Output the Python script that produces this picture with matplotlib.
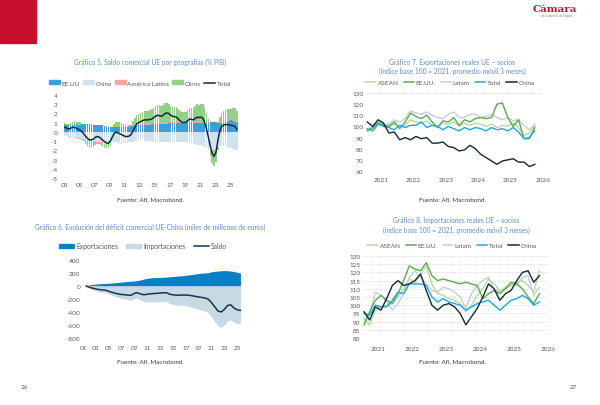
import matplotlib
matplotlib.use('Agg')
import matplotlib.pyplot as plt
import numpy as np
from matplotlib.lines import Line2D
from matplotlib.patches import Patch, Rectangle

plt.rcParams['font.family'] = ['Lato', 'DejaVu Sans']
plt.rcParams['axes.unicode_minus'] = False

# ---------------- data ----------------
# Gráfico 5: quarterly 2003Q1..2025Q4, % GDP
quarters5 = np.arange(2003, 2026, 0.25) + 0.125
eeuu5 = [0.80, 0.80, 0.78, 0.78, 0.80, 0.82, 0.82, 0.80, 0.80, 0.82, 0.84, 0.84,
         0.85, 0.84, 0.82, 0.80, 0.78, 0.76, 0.74, 0.72, 0.70, 0.66, 0.60, 0.55,
         0.50, 0.48, 0.48, 0.50, 0.52, 0.54, 0.55, 0.56, 0.58, 0.58, 0.58, 0.60,
         0.64, 0.68, 0.70, 0.72, 0.72, 0.74, 0.75, 0.76, 0.78, 0.80, 0.82, 0.84,
         0.86, 0.88, 0.88, 0.88, 0.88, 0.90, 0.90, 0.92, 0.92, 0.94, 0.95, 0.96,
         0.96, 0.98, 1.00, 1.00, 1.02, 1.04, 1.05, 1.05, 1.00, 0.95, 0.95, 0.98,
         1.00, 1.00, 0.98, 0.98, 1.00, 1.02, 1.05, 1.05, 1.02, 1.00, 0.98, 0.98,
         1.00, 1.05, 1.10, 1.15, 1.25, 1.20, 1.05, 0.95]
china5 = [-0.40, -0.42, -0.45, -0.48, -0.50, -0.55, -0.60, -0.65, -0.70, -0.75, -0.80, -0.85,
          -0.88, -0.92, -0.95, -0.98, -1.00, -1.05, -1.10, -1.12, -1.15, -1.18, -1.20, -1.20,
          -1.10, -1.05, -1.05, -1.10, -1.20, -1.25, -1.28, -1.25, -1.22, -1.18, -1.15, -1.10,
          -1.05, -1.00, -0.98, -0.95, -0.92, -0.92, -0.95, -0.98, -1.00, -1.02, -1.05, -1.08,
          -1.10, -1.12, -1.12, -1.12, -1.10, -1.08, -1.06, -1.05, -1.05, -1.05, -1.05, -1.05,
          -1.05, -1.08, -1.10, -1.12, -1.12, -1.15, -1.18, -1.20, -1.25, -1.35, -1.40, -1.40,
          -1.45, -1.55, -1.65, -1.80, -1.95, -2.05, -2.05, -2.00, -1.85, -1.65, -1.55, -1.50,
          -1.55, -1.60, -1.65, -1.70, -1.80, -1.90, -1.95, -1.95]
latam5 = [-0.05, -0.05, -0.06, -0.08, -0.08, -0.10, -0.10, -0.12, -0.12, -0.14, -0.15, -0.15,
          -0.15, -0.16, -0.16, -0.15, -0.15, -0.14, -0.14, -0.13, -0.12, -0.12, -0.10, -0.08,
          -0.05, -0.03, -0.02, 0.00, 0.02, 0.03, 0.04, 0.05, 0.06, 0.07, 0.08, 0.08,
          0.08, 0.09, 0.10, 0.10, 0.10, 0.11, 0.12, 0.12, 0.12, 0.12, 0.12, 0.12,
          0.12, 0.12, 0.11, 0.11, 0.11, 0.10, 0.10, 0.10, 0.10, 0.10, 0.10, 0.10,
          0.10, 0.10, 0.11, 0.11, 0.12, 0.12, 0.12, 0.12, 0.12, 0.10, 0.10, 0.10,
          0.10, 0.08, 0.06, 0.04, 0.02, 0.00, -0.02, -0.02, 0.00, 0.02, 0.04, 0.05,
          0.06, 0.08, 0.10, 0.12, 0.14, 0.15, 0.14, 0.12]
otros5 = [0.15, 0.07, 0.03, 0.18, 0.28, 0.33, 0.28, 0.27, 0.22, 0.07, -0.09, -0.34,
          -0.52, -0.66, -0.56, -0.47, -0.23, -0.07, -0.05, -0.17, -0.33, -0.41, -0.50, -0.52,
          -0.35, 0.00, 0.39, 0.60, 0.56, 0.48, 0.39, 0.24, 0.08, 0.03, 0.04, 0.12,
          0.43, 0.73, 1.03, 1.13, 1.20, 1.27, 1.38, 1.40, 1.40, 1.45, 1.51, 1.67,
          1.82, 1.92, 1.88, 1.83, 1.91, 2.08, 2.11, 2.03, 1.83, 1.71, 1.65, 1.59,
          1.39, 1.20, 1.04, 1.01, 1.03, 1.19, 1.41, 1.38, 1.43, 1.75, 1.95, 1.87,
          1.95, 1.97, 1.61, 1.08, 0.33, -0.57, -1.33, -1.68, -1.37, -0.27, 0.63, 1.07,
          1.24, 1.27, 1.25, 1.18, 1.11, 1.20, 1.36, 1.18]
total5 = [0.5, 0.4, 0.3, 0.4, 0.5, 0.5, 0.4, 0.3, 0.2, 0.0, -0.2, -0.5,
          -0.7, -0.9, -0.85, -0.8, -0.6, -0.5, -0.55, -0.7, -0.9, -1.05, -1.2, -1.25,
          -1.0, -0.6, -0.2, 0.0, -0.1, -0.2, -0.3, -0.4, -0.5, -0.5, -0.45, -0.3,
          0.1, 0.5, 0.85, 1.0, 1.1, 1.2, 1.3, 1.3, 1.3, 1.35, 1.4, 1.55,
          1.7, 1.8, 1.75, 1.7, 1.8, 2.0, 2.05, 2.0, 1.8, 1.7, 1.65, 1.6,
          1.4, 1.2, 1.05, 1.0, 1.05, 1.2, 1.4, 1.35, 1.3, 1.45, 1.6, 1.55,
          1.6, 1.5, 1.0, 0.3, -0.6, -1.6, -2.35, -2.65, -2.2, -0.9, 0.1, 0.6,
          0.75, 0.8, 0.8, 0.75, 0.7, 0.65, 0.6, 0.3]
labels5 = ['EE.UU', 'China', 'América Latina', 'Otros', 'Total']

# Gráfico 6: half-yearly, miles de millones de euros
years6 = np.arange(2001.5, 2026.0, 0.5)
export6 = [5, 18, 25, 30, 35, 38, 40, 43, 46, 50, 55, 60, 65, 70, 75, 78, 85, 95, 108, 117,
           125, 128, 131, 133, 135, 137, 142, 147, 150, 155, 158, 165, 172, 178, 185, 192, 198,
           200, 205, 220, 225, 230, 235, 238, 235, 230, 222, 212, 200]
import6 = [-5, -38, -58, -75, -90, -98, -105, -123, -144, -160, -178, -190, -200, -210, -218,
           -190, -188, -220, -243, -244, -245, -244, -243, -242, -240, -240, -269, -283, -290,
           -297, -296, -305, -315, -328, -345, -360, -374, -385, -408, -475, -545, -615, -635,
           -598, -535, -520, -562, -577, -575]
saldo6 = [0, -20, -33, -45, -55, -60, -65, -80, -98, -110, -123, -130, -135, -140, -143,
          -112, -103, -125, -135, -127, -120, -116, -112, -109, -105, -103, -127, -136, -140,
          -142, -138, -140, -143, -150, -160, -168, -176, -185, -203, -255, -320, -385, -400,
          -360, -300, -290, -340, -365, -375]
labels6 = ['Exportaciones', 'Importaciones', 'Saldo']

# Gráficos 7 y 8: bimonthly from Aug-2020, index 2021 = 100
months78 = 2020.58 + np.arange(32) / 6
exp_asean = [97, 98, 104, 102, 100, 102, 99, 101, 106, 104, 103, 105, 101, 100, 103, 102,
             104, 100, 103, 101, 103, 102, 100, 102, 99, 101, 100, 103, 99, 92, 94, 101]
exp_eeuu = [96, 99, 103, 101, 100, 104, 98, 104, 112, 109, 107, 110, 104, 99, 105, 104,
            108, 101, 106, 104, 107, 108, 107, 108, 120, 121, 108, 100, 106, 89, 89, 99]
exp_latam = [98, 99, 104, 102, 102, 106, 104, 107, 114, 112, 111, 113, 110, 108, 107, 111,
             113, 108, 108, 111, 111, 108, 109, 111, 108, 106, 108, 105, 106, 101, 97, 102]
exp_total = [98, 96, 102, 100, 99, 97, 101, 99, 101, 101, 104, 99, 101, 100, 97, 100,
             98, 96, 99, 97, 99, 98, 96, 99, 97, 98, 96, 99, 95, 89, 90, 96]
exp_china = [104, 100, 106, 103, 94, 95, 88, 90, 88, 91, 89, 90, 85, 85, 86, 82,
             81, 78, 79, 83, 80, 75, 72, 69, 66, 69, 70, 71, 68, 68, 64, 66]

imp_asean = [92, 88, 97, 99, 100, 101, 105, 110, 116, 114, 119, 124, 113, 107, 106, 104,
             103, 101, 96, 100, 106, 110, 116, 113, 109, 110, 112, 114, 115, 112, 108, 121]
imp_eeuu = [88, 96, 103, 106, 103, 101, 107, 115, 124, 122, 121, 126, 118, 115, 116, 115,
            114, 113, 114, 113, 112, 104, 107, 109, 107, 110, 114, 113, 110, 105, 101, 107]
imp_latam = [90, 95, 108, 106, 102, 97, 101, 107, 117, 121, 117, 113, 109, 108, 111, 110,
             108, 105, 98, 107, 112, 115, 117, 110, 108, 111, 113, 112, 117, 118, 106, 111]
imp_total = [95, 94, 100, 99, 99, 103, 108, 107, 113, 113, 113, 112, 105, 102, 104, 102,
             101, 100, 97, 99, 101, 102, 103, 100, 97, 100, 103, 104, 106, 104, 100, 102]
imp_china = [96, 91, 99, 97, 104, 112, 115, 112, 113, 115, 119, 109, 100, 97, 100, 101,
             99, 95, 88, 93, 98, 105, 113, 110, 103, 107, 109, 115, 120, 121, 114, 118]
labels78 = ['ASEAN', 'EE.UU.', 'Latam', 'Total', 'China']

# ---------------- style ----------------
W, H = 600, 406
TITLE = '#5b8cc8'
GREY = '#595959'
SRC = '#3a3a3a'
C_US, C_CN, C_LA, C_OT, C_TOT = '#3aa0dc', '#cfe2ef', '#f4a6a2', '#93d086', '#0f2b3c'
C_EXP, C_IMP, C_SAL = '#0b7fc4', '#c7dae4', '#15364c'
C78 = ['#b9d8a9', '#5aab4c', '#c3cfd8', '#1ca8e8', '#10293a']
FS = 4.6

fig = plt.figure(figsize=(6, 4.06), dpi=100)


def box(l, t, r, b):
    return fig.add_axes([l / W, 1 - b / H, (r - l) / W, (b - t) / H])


def txt(x, y, s, **kw):
    kw.setdefault('ha', 'center')
    kw.setdefault('va', 'center')
    fig.text(x / W, 1 - y / H, s, **kw)


def clean(ax, pad_x=3):
    for s in ax.spines.values():
        s.set_visible(False)
    ax.tick_params(length=0, labelsize=FS, labelcolor=GREY, pad=2)
    ax.tick_params(axis='x', pad=pad_x)
    ax.set_facecolor('none')


# page decoration
fig.patches.append(Rectangle((0, 1 - 44 / H), 36 / W, 44 / H, transform=fig.transFigure,
                             color='#c8102e', zorder=0))
txt(555, 10, 'Cámara', color='#c8102e', fontsize=7.5, fontweight='bold', family='DejaVu Serif')
txt(557, 16.5, 'de Comercio de España', color='#b07070', fontsize=2.2)
txt(24, 388, '26', color=GREY, fontsize=4.5)
txt(573, 388, '27', color=GREY, fontsize=4.5)

# ---------------- Gráfico 5 ----------------
ax5 = box(60, 96, 240, 179)
pos = np.zeros(len(quarters5))
neg = np.zeros(len(quarters5))
for vals, col in zip([eeuu5, china5, latam5, otros5], [C_US, C_CN, C_LA, C_OT]):
    v = np.array(vals)
    bottom = np.where(v >= 0, pos, neg)
    ax5.bar(quarters5, v, bottom=bottom, width=0.2, color=col, linewidth=0)
    pos = pos + np.clip(v, 0, None)
    neg = neg + np.clip(v, None, 0)
ax5.plot(quarters5, total5, color=C_TOT, lw=1.1)
ax5.set_xlim(2002.47, 2026.3)
ax5.set_ylim(-5, 4)
ax5.set_yticks(range(-5, 5))
ax5.set_xticks(range(2003, 2026, 2))
ax5.set_xticklabels([f'{y % 100:02d}' for y in range(2003, 2026, 2)])
clean(ax5)
txt(150, 62, 'Gráfico 5. Saldo comercial UE por geografías (% PIB)', color=TITLE, fontsize=4.8)
h5 = [Patch(color=c) for c in [C_US, C_CN, C_LA, C_OT]] + [Line2D([], [], color=C_TOT, lw=1.1)]
fig.legend(h5, labels5, loc='center', bbox_to_anchor=(140 / W, 1 - 84 / H), ncol=5,
           frameon=False, fontsize=FS, handlelength=1.7, handleheight=0.6,
           columnspacing=0.5, handletextpad=0.25, labelcolor=GREY)
txt(150, 200, 'Fuente: Afi, Macrobond.', color=SRC, fontsize=4.5)

# ---------------- Gráfico 6 ----------------
ax6 = box(83, 261, 243, 339)
ax6.fill_between(years6, 0, export6, color=C_EXP, lw=0)
ax6.fill_between(years6, 0, import6, color=C_IMP, lw=0)
ax6.plot(years6, saldo6, color=C_SAL, lw=1.1)
ax6.set_xlim(2001.3, 2025.9)
ax6.set_ylim(-800, 400)
ax6.set_yticks(range(-800, 401, 200))
ax6.set_xticks(range(2001, 2026, 2))
ax6.set_xticklabels([f'{y % 100:02d}' for y in range(2001, 2026, 2)])
clean(ax6, pad_x=5)
txt(150, 227, 'Gráfico 6. Evolución del déficit comercial UE-China (miles de millones de euros)',
    color=TITLE, fontsize=4.8)
h6 = [Patch(color=C_EXP), Patch(color=C_IMP), Line2D([], [], color=C_SAL, lw=1.1)]
fig.legend(h6, labels6, loc='center', bbox_to_anchor=(143 / W, 1 - 247 / H), ncol=3,
           frameon=False, fontsize=FS + 0.3, handlelength=2.2, handleheight=0.6,
           columnspacing=1.2, handletextpad=0.3, labelcolor=GREY)
txt(150, 362, 'Fuente: Afi, Macrobond.', color=SRC, fontsize=4.5)

# ---------------- Gráfico 7 ----------------
ax7 = box(366, 94, 543, 172)
for vals, col in zip([exp_latam, exp_asean, exp_eeuu, exp_total, exp_china],
                     [C78[2], C78[0], C78[1], C78[3], C78[4]]):
    ax7.plot(months78, vals, color=col, lw=1.0)
ax7.axhline(130, color='#c8c8c8', lw=0.6, ls=(0, (1, 1.5)))
ax7.set_xlim(2020.54, 2026.0)
ax7.set_ylim(60, 130)
ax7.set_yticks(range(60, 131, 10))
ax7.set_xticks(range(2021, 2027))
clean(ax7, pad_x=4)
txt(452, 62, 'Gráfico 7. Exportaciones reales UE – socios', color=TITLE, fontsize=4.8)
txt(452, 71, '(índice base 100 = 2021, promedio móvil 3 meses)', color=TITLE, fontsize=4.8)
h78 = [Line2D([], [], color=c, lw=1.1) for c in C78]
fig.legend(h78, labels78, loc='center', bbox_to_anchor=(450 / W, 1 - 83 / H), ncol=5,
           frameon=False, fontsize=FS, handlelength=1.6, columnspacing=0.8,
           handletextpad=0.3, labelcolor=GREY)
txt(452, 200, 'Fuente: Afi, Macrobond.', color=SRC, fontsize=4.5)

# ---------------- Gráfico 8 ----------------
ax8 = box(363, 257, 548, 339)
ax8.grid(axis='y', color='#c8c8c8', lw=0.6, ls=(0, (1, 1.5)))
ax8.set_axisbelow(True)
for vals, col in zip([imp_latam, imp_asean, imp_eeuu, imp_total, imp_china],
                     [C78[2], C78[0], C78[1], C78[3], C78[4]]):
    ax8.plot(months78, vals, color=col, lw=1.0)
ax8.set_xlim(2020.55, 2026.0)
ax8.set_ylim(80, 130)
ax8.set_yticks(range(80, 131, 5))
ax8.set_xticks(range(2021, 2027))
clean(ax8, pad_x=6)
txt(456, 221, 'Gráfico 8. Importaciones reales UE – socios', color=TITLE, fontsize=4.8)
txt(456, 230, '(índice base 100 = 2021, promedio móvil 3 meses)', color=TITLE, fontsize=4.8)
fig.legend(h78, labels78, loc='center', bbox_to_anchor=(452 / W, 1 - 246 / H), ncol=5,
           frameon=False, fontsize=FS, handlelength=1.6, columnspacing=0.8,
           handletextpad=0.3, labelcolor=GREY)
txt(452, 362, 'Fuente: Afi, Macrobond.', color=SRC, fontsize=4.5)

fig.savefig('out.png', dpi=100)
